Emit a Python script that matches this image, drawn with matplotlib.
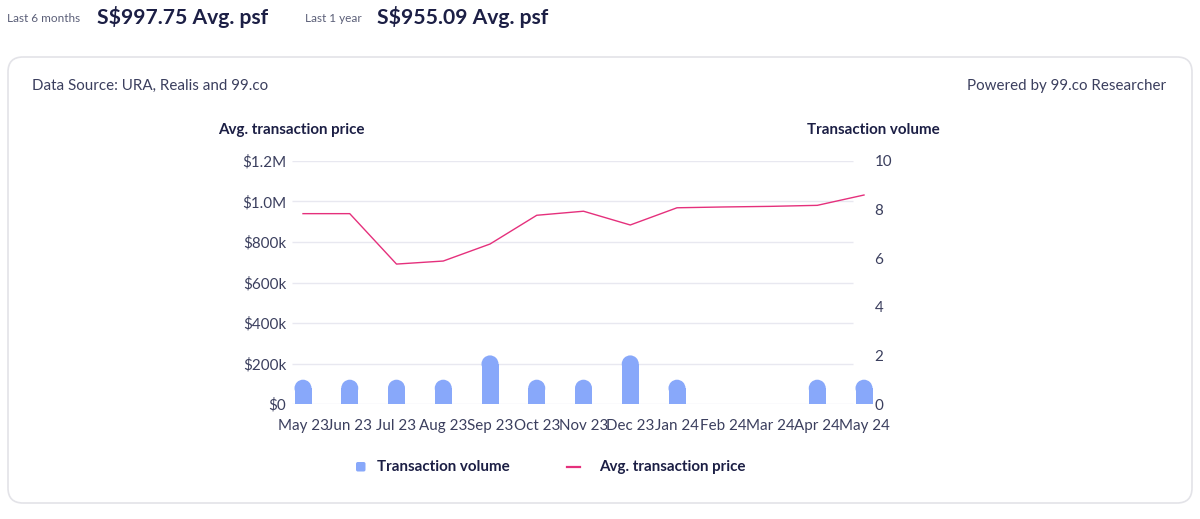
import matplotlib
matplotlib.use("Agg")
import matplotlib.pyplot as plt
from matplotlib.patches import FancyBboxPatch, Ellipse, Rectangle
from matplotlib.lines import Line2D
from matplotlib.ticker import FuncFormatter

months = ["May 23", "Jun 23", "Jul 23", "Aug 23", "Sep 23", "Oct 23", "Nov 23",
          "Dec 23", "Jan 24", "Feb 24", "Mar 24", "Apr 24", "May 24"]
avg_price = [940000, 940000, 691000, 706000, 790000, 932000, 952000,
             884000, 969000, 973000, 976000, 981000, 1032000]
volume = [1, 1, 1, 1, 2, 1, 1, 2, 1, 0, 0, 1, 1]
price_ticks = [0, 200000, 400000, 600000, 800000, 1000000, 1200000]
volume_ticks = [0, 2, 4, 6, 8, 10]
legend_labels = ["Transaction volume", "Avg. transaction price"]

FONT = "Lato"
DARK = "#1c1f45"
MID = "#3b3f5e"
GRAY = "#5b5f78"
BAR = "#88a8fa"
LINE = "#e5307c"
GRID = "#e8e8f0"

W, H = 1200, 519
fig = plt.figure(figsize=(W / 100, H / 100), dpi=100)
plt.rcParams['font.family'] = [FONT, 'DejaVu Sans']

def fx(px):
    return px / W

def fy(py):
    return 1 - py / H

# header
fig.text(fx(7), fy(22), "Last 6 months", fontsize=8.5, color=GRAY, va="baseline", ha="left")
fig.text(fx(97), fy(24), "S$997.75 Avg. psf", fontsize=15.2, color=DARK, va="baseline", ha="left", fontweight="bold")
fig.text(fx(305), fy(22), "Last 1 year", fontsize=8.5, color=GRAY, va="baseline", ha="left")
fig.text(fx(377), fy(24), "S$955.09 Avg. psf", fontsize=15.2, color=DARK, va="baseline", ha="left", fontweight="bold")

# card
card = FancyBboxPatch((fx(8), fy(503)), fx(1184), (503 - 57) / H,
                      boxstyle="round,pad=0,rounding_size=0.0125",
                      mutation_aspect=W / H,
                      transform=fig.transFigure, facecolor="white",
                      edgecolor="#e3e3e8", linewidth=1.2, zorder=-10)
fig.patches.append(card)

fig.text(fx(32), fy(86), "Data Source: URA, Realis and 99.co", fontsize=10.9, color=MID, va="center", ha="left")
fig.text(fx(1166), fy(86), "Powered by 99.co Researcher", fontsize=10.9, color=MID, va="center", ha="right")
fig.text(fx(218), fy(130), "Avg. transaction price", fontsize=10.9, color=DARK, va="center", ha="left", fontweight="bold")
fig.text(fx(940), fy(130), "Transaction volume", fontsize=10.9, color=DARK, va="center", ha="right", fontweight="bold")

# axes geometry
x0_px, unit = 303, (864 - 303) / 12
left_px, right_px = 292, 873
grid_right_px = 853
top_px, bot_px = 161, 404
ax = fig.add_axes([fx(left_px), fy(bot_px), (right_px - left_px) / W, (bot_px - top_px) / H])
ax.patch.set_visible(False)
ax2 = ax.twinx()
ax2.patch.set_visible(False)

x = list(range(len(months)))
ax.set_xticks(x)
ax.set_xticklabels(months)
xlo, xhi = (left_px - x0_px) / unit, (right_px - x0_px) / unit
ax.set_xlim(xlo, xhi)
ax.set_ylim(0, 1200000)
ax2.set_ylim(0, 10)

# gridlines (end before the last category, as in the source)
ax.hlines(price_ticks, xlo, (grid_right_px - x0_px) / unit, color=GRID, lw=1.0, zorder=0)

# bars (rounded tops)
bw = 17 / unit
ry = (8.5 / (bot_px - top_px)) * 10
for xi, v in zip(x, volume):
    if v <= 0:
        continue
    rect = Rectangle((xi - bw / 2, 0), bw, v - ry, facecolor=BAR, edgecolor="none", clip_on=False, zorder=2)
    ax2.add_patch(rect)
    ell = Ellipse((xi, v - ry), bw, 2 * ry, facecolor=BAR, edgecolor="none", clip_on=False, zorder=2)
    ax2.add_patch(ell)

ax2.plot(x, [p / 1200000 * 10 for p in avg_price], color=LINE, lw=1.0, clip_on=False, zorder=3)

for a in (ax, ax2):
    for s in a.spines.values():
        s.set_visible(False)

ax.set_yticks(price_ticks)
def pfmt(v, pos):
    if v == 0:
        return "$0"
    if v >= 1000000:
        return f"${v/1000000:.1f}M"
    return f"${int(v/1000)}k"
ax.yaxis.set_major_formatter(FuncFormatter(pfmt))
ax.tick_params(axis="y", length=0, pad=4, labelsize=10.9, labelcolor=MID)
ax.tick_params(axis="x", length=0, pad=11, labelsize=10.9, labelcolor=MID)
ax.set_xlim(xlo, xhi)

ax2.set_yticks(volume_ticks)
ax2.tick_params(axis="y", length=0, pad=1, labelsize=10.9, labelcolor=MID)

# legend (manual)
sq = FancyBboxPatch((fx(356), fy(471.5)), fx(9.5), 9.5 / H,
                    boxstyle="round,pad=0,rounding_size=0.0015", mutation_aspect=W / H,
                    transform=fig.transFigure, facecolor=BAR, edgecolor="none")
fig.patches.append(sq)
fig.text(fx(377), fy(467), legend_labels[0], fontsize=10.9, color=DARK, va="center", ha="left", fontweight="bold")
fig.add_artist(Line2D([fx(567), fx(580)], [fy(467), fy(467)], color=LINE, lw=1.6, transform=fig.transFigure))
fig.text(fx(599), fy(467), legend_labels[1], fontsize=10.9, color=DARK, va="center", ha="left", fontweight="bold")

fig.savefig("out.png", dpi=100)
